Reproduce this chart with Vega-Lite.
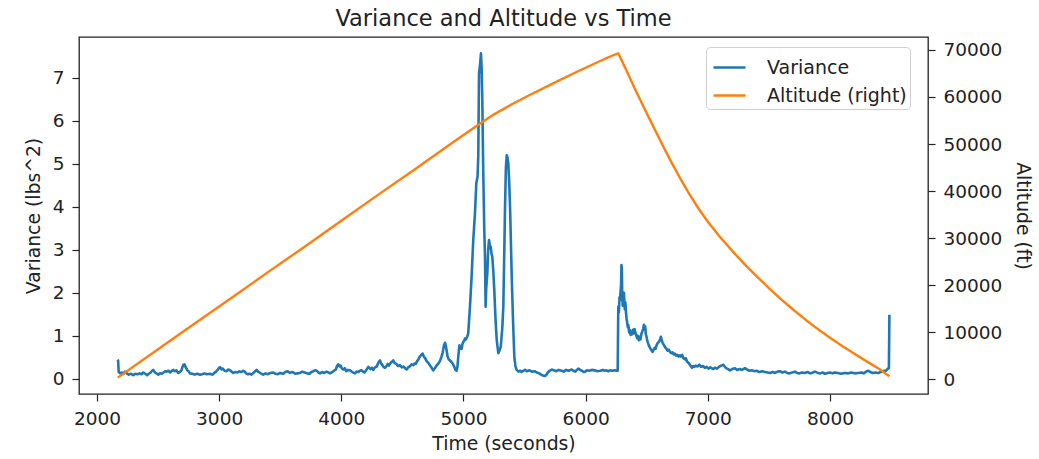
{
  "$schema": "https://vega.github.io/schema/vega-lite/v6.json",
  "width": 849,
  "height": 357,
  "autosize": {"type": "none"},
  "padding": {"left": 79, "top": 37, "right": 111, "bottom": 65},
  "background": "white",
  "title": {
    "text": "Variance and Altitude vs Time",
    "font": "DejaVu Sans",
    "fontSize": 22.5,
    "fontWeight": "normal",
    "color": "#222222",
    "anchor": "middle",
    "baseline": "alphabetic",
    "offset": 10,
    "dy": 21
  },
  "config": {
    "view": {"stroke": "#222222", "strokeWidth": 1.3},
    "axis": {
      "labelFont": "DejaVu Sans",
      "titleFont": "DejaVu Sans",
      "labelFontSize": 18.5,
      "titleFontSize": 18.8,
      "titleFontWeight": "normal",
      "labelColor": "#222222",
      "titleColor": "#222222",
      "tickColor": "#222222",
      "tickSize": 7,
      "tickWidth": 1.2,
      "labelPadding": 8,
      "domain": false,
      "grid": false
    },
    "legend": {
      "orient": "none",
      "legendX": 627,
      "legendY": 10,
      "labelFont": "DejaVu Sans",
      "labelFontSize": 19,
      "labelColor": "#222222",
      "symbolType": "stroke",
      "symbolSize": 1024,
      "symbolStrokeWidth": 2.5,
      "symbolOffset": 3,
      "labelOffset": 20,
      "padding": 3,
      "rowPadding": -2,
      "fillColor": "rgba(255,255,255,0.85)",
      "strokeColor": "#d0d0d0",
      "cornerRadius": 4
    }
  },
  "datasets": {
    "variance": [
      {"t":2169,"v":0.45},{"t":2173,"v":0.43},{"t":2178,"v":0.16},{"t":2190,"v":0.13},{"t":2205,"v":0.15},{"t":2218,"v":0.12},{"t":2229,"v":0.17},{"t":2245,"v":0.13},{"t":2260,"v":0.10},{"t":2278,"v":0.12},
      {"t":2297,"v":0.09},{"t":2313,"v":0.12},{"t":2330,"v":0.11},{"t":2350,"v":0.13},{"t":2365,"v":0.11},{"t":2379,"v":0.15},{"t":2395,"v":0.12},{"t":2410,"v":0.09},{"t":2425,"v":0.12},{"t":2440,"v":0.15},
      {"t":2452,"v":0.19},{"t":2461,"v":0.21},{"t":2470,"v":0.17},{"t":2480,"v":0.14},{"t":2492,"v":0.12},{"t":2502,"v":0.10},{"t":2515,"v":0.13},{"t":2530,"v":0.12},{"t":2545,"v":0.15},{"t":2558,"v":0.18},
      {"t":2570,"v":0.17},{"t":2585,"v":0.19},{"t":2600,"v":0.15},{"t":2612,"v":0.19},{"t":2625,"v":0.21},{"t":2638,"v":0.18},{"t":2650,"v":0.20},{"t":2665,"v":0.14},{"t":2678,"v":0.16},{"t":2690,"v":0.19},
      {"t":2700,"v":0.28},{"t":2708,"v":0.33},{"t":2716,"v":0.34},{"t":2725,"v":0.28},{"t":2740,"v":0.20},{"t":2752,"v":0.17},{"t":2761,"v":0.13},{"t":2780,"v":0.12},{"t":2800,"v":0.10},{"t":2820,"v":0.12},
      {"t":2843,"v":0.10},{"t":2860,"v":0.11},{"t":2880,"v":0.13},{"t":2900,"v":0.11},{"t":2925,"v":0.12},{"t":2943,"v":0.10},{"t":2960,"v":0.14},{"t":2975,"v":0.17},{"t":2990,"v":0.22},{"t":3000,"v":0.26},
      {"t":3010,"v":0.27},{"t":3020,"v":0.22},{"t":3030,"v":0.24},{"t":3045,"v":0.19},{"t":3061,"v":0.18},{"t":3075,"v":0.22},{"t":3090,"v":0.20},{"t":3103,"v":0.17},{"t":3116,"v":0.14},{"t":3132,"v":0.16},
      {"t":3150,"v":0.15},{"t":3165,"v":0.18},{"t":3180,"v":0.16},{"t":3197,"v":0.19},{"t":3210,"v":0.17},{"t":3220,"v":0.13},{"t":3236,"v":0.11},{"t":3252,"v":0.12},{"t":3266,"v":0.10},{"t":3280,"v":0.14},
      {"t":3295,"v":0.18},{"t":3307,"v":0.21},{"t":3318,"v":0.17},{"t":3330,"v":0.15},{"t":3345,"v":0.12},{"t":3361,"v":0.10},{"t":3380,"v":0.13},{"t":3400,"v":0.11},{"t":3420,"v":0.14},{"t":3443,"v":0.15},
      {"t":3460,"v":0.12},{"t":3480,"v":0.11},{"t":3500,"v":0.14},{"t":3525,"v":0.12},{"t":3542,"v":0.16},{"t":3560,"v":0.18},{"t":3580,"v":0.14},{"t":3595,"v":0.16},{"t":3607,"v":0.15},{"t":3625,"v":0.12},
      {"t":3640,"v":0.13},{"t":3662,"v":0.14},{"t":3680,"v":0.17},{"t":3700,"v":0.15},{"t":3720,"v":0.13},{"t":3740,"v":0.12},{"t":3755,"v":0.16},{"t":3771,"v":0.18},{"t":3785,"v":0.20},{"t":3800,"v":0.19},
      {"t":3812,"v":0.15},{"t":3825,"v":0.13},{"t":3842,"v":0.16},{"t":3860,"v":0.14},{"t":3880,"v":0.17},{"t":3907,"v":0.13},{"t":3925,"v":0.16},{"t":3940,"v":0.19},{"t":3955,"v":0.22},{"t":3965,"v":0.30},
      {"t":3975,"v":0.34},{"t":3985,"v":0.29},{"t":3995,"v":0.31},{"t":4005,"v":0.24},{"t":4016,"v":0.22},{"t":4028,"v":0.25},{"t":4040,"v":0.18},{"t":4055,"v":0.21},{"t":4071,"v":0.20},{"t":4090,"v":0.16},
      {"t":4112,"v":0.13},{"t":4125,"v":0.17},{"t":4140,"v":0.16},{"t":4152,"v":0.19},{"t":4166,"v":0.20},{"t":4178,"v":0.17},{"t":4190,"v":0.15},{"t":4205,"v":0.21},{"t":4221,"v":0.28},{"t":4230,"v":0.25},
      {"t":4240,"v":0.23},{"t":4250,"v":0.26},{"t":4262,"v":0.21},{"t":4275,"v":0.27},{"t":4290,"v":0.29},{"t":4300,"v":0.36},{"t":4310,"v":0.41},{"t":4317,"v":0.43},{"t":4325,"v":0.36},{"t":4335,"v":0.33},
      {"t":4345,"v":0.28},{"t":4357,"v":0.26},{"t":4370,"v":0.30},{"t":4380,"v":0.35},{"t":4390,"v":0.31},{"t":4405,"v":0.38},{"t":4415,"v":0.40},{"t":4425,"v":0.43},{"t":4437,"v":0.37},{"t":4450,"v":0.35},
      {"t":4465,"v":0.30},{"t":4480,"v":0.32},{"t":4495,"v":0.27},{"t":4510,"v":0.29},{"t":4522,"v":0.25},{"t":4535,"v":0.22},{"t":4548,"v":0.27},{"t":4560,"v":0.29},{"t":4575,"v":0.34},{"t":4589,"v":0.32},
      {"t":4600,"v":0.36},{"t":4610,"v":0.35},{"t":4620,"v":0.41},{"t":4632,"v":0.46},{"t":4645,"v":0.53},{"t":4655,"v":0.56},{"t":4665,"v":0.59},{"t":4675,"v":0.52},{"t":4685,"v":0.49},{"t":4697,"v":0.42},
      {"t":4710,"v":0.38},{"t":4722,"v":0.33},{"t":4735,"v":0.28},{"t":4745,"v":0.23},{"t":4753,"v":0.20},{"t":4765,"v":0.25},{"t":4780,"v":0.31},{"t":4795,"v":0.36},{"t":4808,"v":0.42},{"t":4820,"v":0.52},
      {"t":4830,"v":0.62},{"t":4840,"v":0.78},{"t":4849,"v":0.84},{"t":4856,"v":0.76},{"t":4862,"v":0.66},{"t":4870,"v":0.52},{"t":4878,"v":0.46},{"t":4889,"v":0.43},{"t":4900,"v":0.40},{"t":4915,"v":0.34},
      {"t":4925,"v":0.28},{"t":4935,"v":0.21},{"t":4943,"v":0.19},{"t":4950,"v":0.27},{"t":4960,"v":0.60},{"t":4967,"v":0.78},{"t":4975,"v":0.72},{"t":4985,"v":0.70},{"t":4992,"v":0.82},{"t":4998,"v":0.86},
      {"t":5005,"v":0.88},{"t":5012,"v":0.94},{"t":5020,"v":0.92},{"t":5030,"v":0.98},{"t":5039,"v":1.06},{"t":5053,"v":1.68},{"t":5065,"v":2.30},{"t":5080,"v":3.23},{"t":5094,"v":3.85},{"t":5105,"v":4.55},
      {"t":5115,"v":4.70},{"t":5121,"v":5.17},{"t":5127,"v":7.10},{"t":5137,"v":7.35},{"t":5143,"v":7.57},{"t":5149,"v":7.20},{"t":5154,"v":6.48},{"t":5162,"v":4.78},{"t":5170,"v":3.50},{"t":5176,"v":2.84},
      {"t":5181,"v":1.68},{"t":5186,"v":2.10},{"t":5195,"v":2.46},{"t":5202,"v":3.00},{"t":5209,"v":3.23},{"t":5216,"v":3.10},{"t":5223,"v":3.07},{"t":5230,"v":2.90},{"t":5236,"v":2.84},{"t":5244,"v":2.50},
      {"t":5252,"v":2.07},{"t":5262,"v":1.40},{"t":5272,"v":0.91},{"t":5285,"v":0.60},{"t":5295,"v":0.66},{"t":5305,"v":0.75},{"t":5318,"v":1.20},{"t":5326,"v":1.68},{"t":5333,"v":2.80},{"t":5340,"v":4.00},
      {"t":5347,"v":4.90},{"t":5354,"v":5.20},{"t":5360,"v":5.15},{"t":5367,"v":5.01},{"t":5374,"v":4.60},{"t":5381,"v":4.00},{"t":5388,"v":3.20},{"t":5394,"v":2.46},{"t":5405,"v":1.40},{"t":5416,"v":0.52},
      {"t":5425,"v":0.30},{"t":5435,"v":0.21},{"t":5450,"v":0.17},{"t":5465,"v":0.19},{"t":5476,"v":0.16},{"t":5490,"v":0.19},{"t":5503,"v":0.21},{"t":5520,"v":0.18},{"t":5540,"v":0.20},{"t":5560,"v":0.17},
      {"t":5585,"v":0.18},{"t":5600,"v":0.15},{"t":5620,"v":0.13},{"t":5635,"v":0.10},{"t":5650,"v":0.08},{"t":5667,"v":0.07},{"t":5680,"v":0.10},{"t":5690,"v":0.15},{"t":5705,"v":0.19},{"t":5722,"v":0.22},
      {"t":5740,"v":0.20},{"t":5760,"v":0.18},{"t":5780,"v":0.21},{"t":5804,"v":0.19},{"t":5820,"v":0.17},{"t":5840,"v":0.21},{"t":5860,"v":0.19},{"t":5886,"v":0.22},{"t":5900,"v":0.19},{"t":5915,"v":0.17},
      {"t":5928,"v":0.21},{"t":5940,"v":0.24},{"t":5955,"v":0.21},{"t":5970,"v":0.19},{"t":5983,"v":0.16},{"t":5995,"v":0.17},{"t":6010,"v":0.20},{"t":6030,"v":0.19},{"t":6050,"v":0.21},{"t":6076,"v":0.20},
      {"t":6095,"v":0.18},{"t":6120,"v":0.19},{"t":6140,"v":0.21},{"t":6155,"v":0.19},{"t":6170,"v":0.20},{"t":6185,"v":0.18},{"t":6200,"v":0.20},{"t":6220,"v":0.19},{"t":6240,"v":0.20},{"t":6262,"v":0.19},
      {"t":6267,"v":1.68},{"t":6272,"v":1.55},{"t":6277,"v":1.90},{"t":6281,"v":1.84},{"t":6286,"v":2.05},{"t":6290,"v":2.20},{"t":6293,"v":2.65},{"t":6296,"v":2.55},{"t":6299,"v":2.00},{"t":6303,"v":1.70},
      {"t":6307,"v":1.95},{"t":6310,"v":1.80},{"t":6313,"v":2.00},{"t":6316,"v":1.85},{"t":6320,"v":1.62},{"t":6325,"v":1.78},{"t":6330,"v":1.55},{"t":6335,"v":1.40},{"t":6340,"v":1.30},{"t":6345,"v":1.20},
      {"t":6350,"v":1.25},{"t":6356,"v":1.08},{"t":6362,"v":1.14},{"t":6368,"v":1.02},{"t":6374,"v":1.10},{"t":6380,"v":1.04},{"t":6387,"v":1.14},{"t":6394,"v":1.06},{"t":6400,"v":1.16},{"t":6407,"v":1.08},
      {"t":6414,"v":1.02},{"t":6421,"v":0.95},{"t":6428,"v":1.00},{"t":6435,"v":0.90},{"t":6442,"v":0.98},{"t":6449,"v":0.92},{"t":6456,"v":1.05},{"t":6463,"v":1.10},{"t":6470,"v":1.16},{"t":6477,"v":1.26},
      {"t":6482,"v":1.18},{"t":6487,"v":1.22},{"t":6492,"v":1.05},{"t":6498,"v":0.98},{"t":6504,"v":0.90},{"t":6510,"v":0.84},{"t":6517,"v":0.78},{"t":6524,"v":0.74},{"t":6531,"v":0.70},{"t":6540,"v":0.66},
      {"t":6548,"v":0.63},{"t":6556,"v":0.68},{"t":6564,"v":0.72},{"t":6572,"v":0.70},{"t":6580,"v":0.78},{"t":6590,"v":0.84},{"t":6600,"v":0.86},{"t":6610,"v":0.93},{"t":6616,"v":0.98},{"t":6622,"v":0.90},
      {"t":6630,"v":0.84},{"t":6638,"v":0.80},{"t":6646,"v":0.76},{"t":6654,"v":0.72},{"t":6662,"v":0.70},{"t":6670,"v":0.66},{"t":6680,"v":0.68},{"t":6690,"v":0.63},{"t":6700,"v":0.60},{"t":6710,"v":0.62},
      {"t":6720,"v":0.57},{"t":6730,"v":0.59},{"t":6740,"v":0.54},{"t":6750,"v":0.56},{"t":6760,"v":0.52},{"t":6770,"v":0.55},{"t":6780,"v":0.52},{"t":6790,"v":0.56},{"t":6800,"v":0.48},{"t":6810,"v":0.46},
      {"t":6820,"v":0.48},{"t":6830,"v":0.40},{"t":6840,"v":0.38},{"t":6850,"v":0.34},{"t":6860,"v":0.30},{"t":6870,"v":0.26},{"t":6880,"v":0.30},{"t":6890,"v":0.28},{"t":6900,"v":0.31},{"t":6915,"v":0.29},
      {"t":6930,"v":0.33},{"t":6945,"v":0.28},{"t":6960,"v":0.30},{"t":6975,"v":0.26},{"t":6990,"v":0.28},{"t":7005,"v":0.24},{"t":7020,"v":0.27},{"t":7031,"v":0.25},{"t":7045,"v":0.23},{"t":7058,"v":0.26},
      {"t":7075,"v":0.24},{"t":7095,"v":0.29},{"t":7110,"v":0.31},{"t":7127,"v":0.33},{"t":7138,"v":0.29},{"t":7150,"v":0.25},{"t":7165,"v":0.23},{"t":7181,"v":0.20},{"t":7200,"v":0.23},{"t":7222,"v":0.25},
      {"t":7240,"v":0.21},{"t":7260,"v":0.23},{"t":7280,"v":0.21},{"t":7304,"v":0.25},{"t":7320,"v":0.22},{"t":7340,"v":0.19},{"t":7360,"v":0.20},{"t":7386,"v":0.18},{"t":7400,"v":0.19},{"t":7420,"v":0.16},
      {"t":7445,"v":0.18},{"t":7468,"v":0.16},{"t":7490,"v":0.15},{"t":7510,"v":0.14},{"t":7530,"v":0.16},{"t":7550,"v":0.14},{"t":7570,"v":0.17},{"t":7590,"v":0.18},{"t":7610,"v":0.15},{"t":7631,"v":0.17},
      {"t":7650,"v":0.14},{"t":7670,"v":0.13},{"t":7690,"v":0.15},{"t":7713,"v":0.17},{"t":7730,"v":0.14},{"t":7750,"v":0.13},{"t":7770,"v":0.15},{"t":7795,"v":0.14},{"t":7815,"v":0.16},{"t":7840,"v":0.13},
      {"t":7860,"v":0.15},{"t":7877,"v":0.17},{"t":7900,"v":0.14},{"t":7920,"v":0.13},{"t":7940,"v":0.15},{"t":7959,"v":0.12},{"t":7980,"v":0.14},{"t":8000,"v":0.15},{"t":8020,"v":0.13},{"t":8041,"v":0.15},
      {"t":8065,"v":0.14},{"t":8090,"v":0.12},{"t":8120,"v":0.14},{"t":8150,"v":0.13},{"t":8175,"v":0.15},{"t":8200,"v":0.13},{"t":8230,"v":0.14},{"t":8259,"v":0.15},{"t":8275,"v":0.13},{"t":8290,"v":0.16},
      {"t":8302,"v":0.18},{"t":8314,"v":0.19},{"t":8330,"v":0.16},{"t":8350,"v":0.14},{"t":8370,"v":0.15},{"t":8395,"v":0.14},{"t":8415,"v":0.16},{"t":8430,"v":0.17},{"t":8445,"v":0.19},{"t":8455,"v":0.18},
      {"t":8468,"v":0.22},{"t":8476,"v":0.25},{"t":8482,"v":0.25},{"t":8486,"v":1.49}
    ],
    "altitude": [
      {"t":2170,"alt":400},{"t":2500,"alt":6400},{"t":2800,"alt":11900},{"t":3100,"alt":17300},{"t":3400,"alt":22800},
      {"t":3700,"alt":28200},{"t":4000,"alt":33700},{"t":4300,"alt":39200},{"t":4600,"alt":44600},{"t":4900,"alt":50100},
      {"t":5100,"alt":53700},{"t":5250,"alt":56300},{"t":5400,"alt":58500},{"t":5550,"alt":60500},{"t":5750,"alt":63100},
      {"t":5950,"alt":65600},{"t":6150,"alt":68000},{"t":6267,"alt":69270},{"t":6330,"alt":65800},{"t":6400,"alt":61900},
      {"t":6475,"alt":57850},{"t":6550,"alt":53900},{"t":6625,"alt":50000},{"t":6700,"alt":46200},{"t":6775,"alt":42650},
      {"t":6850,"alt":39300},{"t":6925,"alt":36250},{"t":7000,"alt":33500},{"t":7100,"alt":30250},{"t":7200,"alt":27300},
      {"t":7300,"alt":24500},{"t":7400,"alt":21900},{"t":7500,"alt":19400},{"t":7600,"alt":17000},{"t":7700,"alt":14800},
      {"t":7800,"alt":12700},{"t":7900,"alt":10700},{"t":8000,"alt":8850},{"t":8100,"alt":7100},{"t":8200,"alt":5450},
      {"t":8300,"alt":3850},{"t":8400,"alt":2300},{"t":8486,"alt":700}
    ]
  },
  "layer": [
    {
      "data": {"name": "variance"},
      "mark": {"type": "line", "strokeWidth": 2.6, "strokeJoin": "round"},
      "encoding": {
        "x": {
          "field": "t", "type": "quantitative",
          "scale": {"domain": [1853, 8802], "nice": false, "zero": false},
          "axis": {"title": "Time (seconds)", "values": [2000, 3000, 4000, 5000, 6000, 7000, 8000], "format": "d", "titlePadding": 7}
        },
        "y": {
          "field": "v", "type": "quantitative",
          "scale": {"domain": [-0.35, 7.95], "nice": false, "zero": false},
          "axis": {"title": "Variance (lbs^2)", "orient": "left", "values": [0, 1, 2, 3, 4, 5, 6, 7], "titlePadding": 9}
        },
        "color": {
          "datum": "Variance",
          "type": "nominal",
          "scale": {"domain": ["Variance", "Altitude (right)"], "range": ["#1f77b4", "#ff7f0e"]},
          "legend": {"title": null}
        }
      }
    },
    {
      "data": {"name": "altitude"},
      "mark": {"type": "line", "strokeWidth": 2.4, "strokeJoin": "round"},
      "encoding": {
        "x": {"field": "t", "type": "quantitative"},
        "y": {
          "field": "alt", "type": "quantitative",
          "scale": {"domain": [-3080, 72720], "nice": false, "zero": false},
          "axis": {"title": "Altitude (ft)", "orient": "right", "values": [0, 10000, 20000, 30000, 40000, 50000, 60000, 70000], "format": "d", "titlePadding": 11}
        },
        "color": {"datum": "Altitude (right)", "type": "nominal"}
      }
    }
  ],
  "resolve": {"scale": {"y": "independent"}}
}
